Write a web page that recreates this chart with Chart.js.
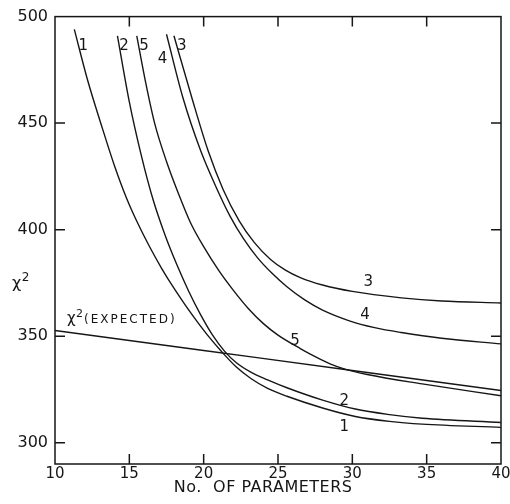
<!DOCTYPE html>
<html lang="en">
<head>
  <meta charset="UTF-8" />
  <title>Chi-square vs number of parameters</title>
  <script src="https://cdn.jsdelivr.net/npm/chart.js"></script>
  <style>
    html, body { margin: 0; padding: 0; background: #fff; }
    #wrap { width: 510px; height: 504px; }
  </style>
</head>
<body>
  <div id="wrap"><canvas id="chi2Chart" width="510" height="504"></canvas></div>

  <script>
    // axis ticks
    const xTickValues = [10, 15, 20, 25, 30, 35, 40];
    const yTickValues = [300, 350, 400, 450, 500];

    // curves (x = no. of parameters, y = chi^2)
    const curve1X = [11.3, 12.2, 13.1, 14.0, 14.8, 15.6, 16.4, 17.2, 18.0, 18.8, 19.6, 20.4, 21.2, 22.2, 23.2, 24.3, 25.6, 28.0, 30.2, 32.5, 34.7, 40];
    const curve1Y = [494, 470, 449.5, 430, 415, 402.5, 391.5, 381.5, 372.5, 364.2, 356.5, 349.3, 342.8, 335.5, 330, 325.5, 321.8, 316.3, 312.3, 310, 308.7, 307.2];

    const curve2X = [14.2, 15.0, 15.8, 16.6, 17.4, 18.2, 19.0, 19.8, 20.6, 21.4, 22.2, 23.2, 24.3, 25.6, 28.0, 30.2, 32.5, 34.7, 40];
    const curve2Y = [491, 460, 435, 414, 397.5, 383.5, 371, 360, 350.5, 343, 337.5, 333, 329.5, 325.8, 320, 315.8, 313.2, 311.5, 309.5];

    const curve3X = [18.0, 19.2, 20.3, 21.3, 22.4, 23.4, 24.5, 25.5, 26.5, 28.0, 30.0, 33.3, 36.0, 40];
    const curve3Y = [491, 462, 437, 419, 404, 394, 386, 381, 377.5, 374, 371, 368, 366.5, 365.6];

    const curve4X = [17.5, 18.6, 19.8, 20.9, 21.8, 22.7, 23.6, 24.6, 25.6, 26.8, 28.0, 29.8, 31.5, 33.3, 36.0, 40];
    const curve4Y = [491.7, 462, 437, 419, 406, 395.5, 387, 379.5, 373.2, 367, 362.2, 357.2, 354, 351.7, 349, 346.4];

    const curve5X = [15.5, 16.1, 16.7, 17.5, 18.3, 19.1, 20.0, 21.0, 22.0, 23.0, 24.0, 25.0, 26.5, 27.5, 28.5, 29.5, 31.0, 34.7, 40];
    const curve5Y = [491, 469, 450, 432, 417, 403.5, 392, 381, 371.5, 363, 356, 350.5, 344.2, 340.4, 337, 334.5, 332, 327.6, 322];

    const expectedX = [10, 20, 30, 40];
    const expectedY = [352.7, 343.3, 333.9, 324.5];

    // curve numbers written on the plot
    const labelText = ['1', '2', '5', '4', '3', '3', '4', '5', '2', '1'];
    const labelX = [11.9, 14.64, 15.98, 17.24, 18.52, 31.07, 30.85, 26.14, 29.46, 29.46];
    const labelY = [486.3, 486.3, 486.3, 480, 486.3, 375.4, 360, 347.7, 319.3, 307.1];

    const INK = '#161616';
    const FONT = '"DejaVu Sans", sans-serif';

    function toPoints(xs, ys) {
      return xs.map((x, i) => ({ x: x, y: ys[i] }));
    }

    function curve(xs, ys) {
      return {
        data: toPoints(xs, ys),
        borderColor: INK,
        borderWidth: 1.4,
        pointRadius: 0,
        fill: false,
        cubicInterpolationMode: 'monotone'
      };
    }

    // draws x^2 with a raised 2, returns the x where the next text starts
    function drawChi2(ctx, x, y, size) {
      ctx.textAlign = 'left';
      ctx.textBaseline = 'alphabetic';
      ctx.font = size + 'px ' + FONT;
      ctx.fillText('\u03C7', x, y);
      const w = ctx.measureText('\u03C7').width;
      ctx.font = Math.round(size * 0.72) + 'px ' + FONT;
      ctx.fillText('2', x + w + 0.5, y - size * 0.42);
      return x + w + 0.5 + ctx.measureText('2').width;
    }

    // frame with inward ticks on all four sides, plus the text on the plot
    const frameAndLabels = {
      id: 'frameAndLabels',
      afterDraw(chart) {
        const ctx = chart.ctx;
        const area = chart.chartArea;
        const xs = chart.scales.x;
        const ys = chart.scales.y;
        ctx.save();

        ctx.strokeStyle = INK;
        ctx.lineWidth = 1.5;
        ctx.strokeRect(area.left, area.top, area.right - area.left, area.bottom - area.top);

        ctx.beginPath();
        xTickValues.forEach(v => {
          const px = xs.getPixelForValue(v);
          if (px <= area.left + 1 || px >= area.right - 1) return;
          ctx.moveTo(px, area.bottom);
          ctx.lineTo(px, area.bottom - 10);
          ctx.moveTo(px, area.top);
          ctx.lineTo(px, area.top + 10);
        });
        yTickValues.forEach(v => {
          const py = ys.getPixelForValue(v);
          if (py <= area.top + 1) return;
          ctx.moveTo(area.left, py);
          ctx.lineTo(area.left + 10, py);
          ctx.moveTo(area.right, py);
          ctx.lineTo(area.right - 10, py);
        });
        ctx.stroke();

        ctx.fillStyle = INK;

        // curve numbers
        ctx.font = '15px ' + FONT;
        ctx.textAlign = 'center';
        ctx.textBaseline = 'middle';
        labelText.forEach((t, i) => {
          ctx.fillText(t, xs.getPixelForValue(labelX[i]), ys.getPixelForValue(labelY[i]));
        });

        // chi^2 (EXPECTED)
        const ex = xs.getPixelForValue(10.8);
        const ey = ys.getPixelForValue(358.5) + 5;
        const after = drawChi2(ctx, ex, ey, 15);
        ctx.font = '12px ' + FONT;
        ctx.letterSpacing = '2px';
        ctx.fillText('(EXPECTED)', after + 1, ey);
        ctx.letterSpacing = '0px';

        // y axis title
        drawChi2(ctx, area.left - 43, ys.getPixelForValue(375) + 5, 16);

        // x axis title
        ctx.font = '16px ' + FONT;
        ctx.textAlign = 'center';
        ctx.textBaseline = 'middle';
        ctx.letterSpacing = '0.5px';
        ctx.fillText('No.  OF PARAMETERS', xs.getPixelForValue(24.0), area.bottom + 24);
        ctx.letterSpacing = '0px';

        ctx.restore();
      }
    };

    new Chart(document.getElementById('chi2Chart'), {
      type: 'line',
      data: {
        datasets: [
          curve(curve1X, curve1Y),
          curve(curve2X, curve2Y),
          curve(curve3X, curve3Y),
          curve(curve4X, curve4Y),
          curve(curve5X, curve5Y),
          curve(expectedX, expectedY)
        ]
      },
      options: {
        responsive: false,
        animation: false,
        devicePixelRatio: 1,
        layout: { padding: { left: 0, right: 9, top: 15, bottom: 0 } },
        plugins: {
          legend: { display: false },
          tooltip: { enabled: false }
        },
        scales: {
          x: {
            type: 'linear',
            min: 10,
            max: 40,
            grid: { display: false, drawTicks: false },
            border: { display: false },
            afterBuildTicks: s => { s.ticks = xTickValues.map(v => ({ value: v })); },
            afterFit: s => {
              s.height = 40;
              s.paddingLeft = 0;
              s.paddingRight = 9;
            },
            ticks: {
              color: INK,
              padding: 3,
              maxRotation: 0,
              font: { family: FONT, size: 15, lineHeight: 1 }
            }
          },
          y: {
            type: 'linear',
            min: 290,
            max: 500,
            grid: { display: false, drawTicks: false },
            border: { display: false },
            afterBuildTicks: s => { s.ticks = yTickValues.map(v => ({ value: v })); },
            afterFit: s => { s.width = 55; },
            ticks: {
              color: INK,
              padding: 7,
              font: { family: FONT, size: 16 }
            }
          }
        }
      },
      plugins: [frameAndLabels]
    });
  </script>
</body>
</html>
